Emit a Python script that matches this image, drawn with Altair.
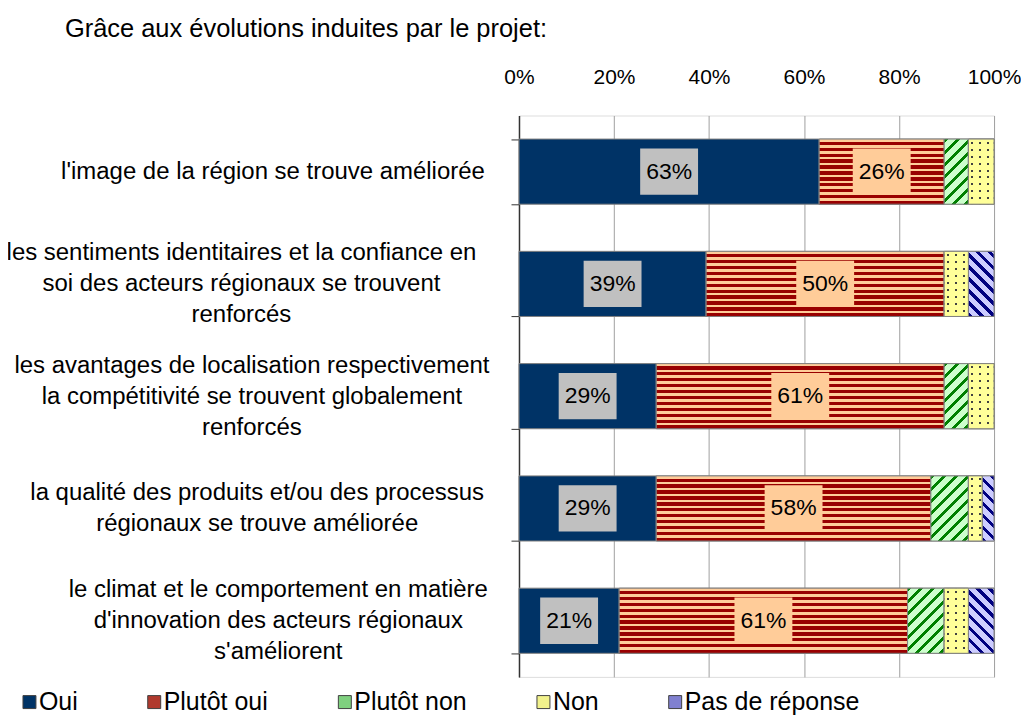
import json
import altair as alt
import pandas as pd

# ---------------- data ----------------
categories = [
    "l'image de la région se trouve améliorée",
    "les sentiments identitaires et la confiance en|soi des acteurs régionaux se trouvent|renforcés",
    "les avantages de localisation respectivement|la compétitivité se trouvent globalement|renforcés",
    "la qualité des produits et/ou des processus|régionaux se trouve améliorée",
    "le climat et le comportement en matière|d'innovation des acteurs régionaux|s'améliorent",
]
series = ["Oui", "Plutôt oui", "Plutôt non", "Non", "Pas de réponse"]
oui = [63.2, 39.4, 28.9, 28.9, 21.1]
plutot_oui = [26.3, 50.1, 60.6, 57.8, 60.7]
plutot_non = [5.1, 0.0, 5.1, 7.9, 7.7]
non = [5.4, 5.1, 5.4, 2.9, 5.1]
pas_de_reponse = [0.0, 5.4, 0.0, 2.5, 5.4]
title_text = "Grâce aux évolutions induites par le projet:"

legend_colors = ["#003366", "#B03A2E", "#7FD07F", "#F2F28C", "#8080D0"]

all_vals = [oui, plutot_oui, plutot_non, non, pas_de_reponse]
rows = []
for i, cat in enumerate(categories):
    for j, s in enumerate(series):
        rows.append({"cat": cat, "row": i, "series": s, "order": j, "value": all_vals[j][i]})
df = pd.DataFrame(rows)

# ---------------- geometry / style ----------------
W, H = 476, 562.5
P_IN, P_OUT = 0.42, 0.21
STEP = H / (len(categories) - P_IN + 2 * P_OUT)
BW = STEP * (1 - P_IN)
FONT = "Liberation Sans"
STROKE = "#808080"
LINE_H = 31
CHAR_W = 10.55       # approximate width of one character of the category labels
LABEL_RIGHT = 36     # gap between the label blocks' right edge and the axis


def stripe_stops(n, frac, fg, bg):
    stops = []
    k = 0
    while k < n:
        a = k / n
        b = min((k + frac) / n, 1.0)
        c = min((k + 1) / n, 1.0)
        stops += [(a, fg), (b, fg), (b, bg), (c, bg)]
        k += 1
    return [{"offset": round(o, 5), "color": col} for o, col in stops]


def diag_grad(w, h, direction, fg, bg, px=12.0, frac=0.35):
    n = (w * w + h * h) / (w * px)
    stops = stripe_stops(n, frac, fg, bg)
    if direction == "/":
        return {"gradient": "linear", "x1": 0, "y1": 0, "x2": 1, "y2": h / w, "stops": stops}
    return {"gradient": "linear", "x1": 0, "y1": 1, "x2": 1, "y2": 1 - h / w, "stops": stops}


def dot_columns(w, fg, bg, sp=8.0, d=2.0):
    stops = [{"offset": 0, "color": bg}]
    cx = sp / 2
    while cx + d / 2 < w:
        a, b = (cx - d / 2) / w, (cx + d / 2) / w
        stops += [{"offset": round(a, 5), "color": bg}, {"offset": round(a, 5), "color": fg},
                  {"offset": round(b, 5), "color": fg}, {"offset": round(b, 5), "color": bg}]
        cx += sp
    stops.append({"offset": 1, "color": bg})
    return {"gradient": "linear", "x1": 0, "y1": 0, "x2": 1, "y2": 0, "stops": stops}


def dot_rows_mask(h, bg, clear, sp=7.0, d=2.0):
    stops = [{"offset": 0, "color": bg}]
    cy = sp / 2
    while cy + d / 2 < h:
        a, b = (cy - d / 2) / h, (cy + d / 2) / h
        stops += [{"offset": round(a, 5), "color": bg}, {"offset": round(a, 5), "color": clear},
                  {"offset": round(b, 5), "color": clear}, {"offset": round(b, 5), "color": bg}]
        cy += sp
    stops.append({"offset": 1, "color": bg})
    return {"gradient": "linear", "x1": 0, "y1": 0, "x2": 0, "y2": 1, "stops": stops}


def per_label(fn):
    conds = [{"test": "datum.value == " + json.dumps(c, ensure_ascii=False), "value": fn(c)}
             for c in categories[:-1]]
    return {"condition": conds, "value": fn(categories[-1])}


def label_pad(c):
    first = c.split("|")[0]
    return round(LABEL_RIGHT - 8 + CHAR_W * len(first) / 2, 1)


def label_off(c):
    return -(len(c.split("|")) - 1) * LINE_H / 2


x_axis = alt.Axis(orient="top", values=[0, 20, 40, 60, 80, 100], labelExpr="datum.value + '%'",
                  grid=True, gridColor="#a0a0a0", gridWidth=1, domain=False, ticks=False,
                  labelFlush=False, labelOverlap=False,
                  labelFontSize=21, labelFont=FONT, labelColor="black", labelPadding=28, title=None)
y_axis = alt.Axis(labelExpr="split(datum.label, '|')", labelAlign="center", labelBaseline="middle",
                  labelPadding=per_label(label_pad), labelOffset=per_label(label_off),
                  labelLimit=700, labelFontSize=24, labelFont=FONT, labelColor="black",
                  labelLineHeight=LINE_H, tickBand="extent", tickSize=8, tickColor="#333333", ticks=True,
                  domain=True, domainColor="#333333", domainWidth=1.5, grid=False, title=None)
x_scale = alt.Scale(domain=[0, 100], nice=False)
y_scale = alt.Scale(paddingInner=P_IN, paddingOuter=P_OUT)


def X(field):
    return alt.X(field, type="quantitative", scale=x_scale, axis=x_axis)


Y = alt.Y("cat:N", sort=categories, scale=y_scale, axis=y_axis)

layers = []
# base bars (solid colours, legend)
layers.append(
    alt.Chart().mark_bar(stroke=STROKE, strokeWidth=1).encode(
        x=X("x0"), x2="x1:Q", y=Y,
        color=alt.Color("series:N", scale=alt.Scale(domain=series, range=legend_colors),
                        legend=alt.Legend(orient="none", legendX=-503, legendY=575, direction="horizontal",
                                          title=None, symbolType="square", symbolSize=169,
                                          symbolStrokeColor="#404040", symbolStrokeWidth=1,
                                          labelFontSize=25, labelFont=FONT, labelColor="black",
                                          labelLimit=400, columnPadding=64, labelOffset={"expr": "-3"},
                                          padding=0)),
    )
)

# Plutôt oui horizontal stripes
po_grad = {"gradient": "linear", "x1": 0, "y1": 0, "x2": 0, "y2": 1,
           "stops": stripe_stops(11, 0.45, "#FFCC99", "#990000")}
layers.append(
    alt.Chart().mark_bar(fill=po_grad, stroke=STROKE, strokeWidth=1)
    .encode(x=X("x0"), x2="x1:Q", y=Y)
    .transform_filter("datum.series == 'Plutôt oui'")
)

# diagonal hatching (Plutôt non, Pas de réponse) and dotted (Non)
for i in range(len(categories)):
    if plutot_non[i] > 0:
        g = diag_grad(plutot_non[i] / 100 * W, BW, "/", "#008000", "#CCFFCC")
        layers.append(
            alt.Chart().mark_bar(fill=g, stroke=STROKE, strokeWidth=1)
            .encode(x=X("x0"), x2="x1:Q", y=Y)
            .transform_filter(f"datum.series == 'Plutôt non' && datum.row == {i}")
        )
    if pas_de_reponse[i] > 0:
        g = diag_grad(pas_de_reponse[i] / 100 * W, BW, "\\", "#000080", "#CCCCFF")
        layers.append(
            alt.Chart().mark_bar(fill=g, stroke=STROKE, strokeWidth=1)
            .encode(x=X("x0"), x2="x1:Q", y=Y)
            .transform_filter(f"datum.series == 'Pas de réponse' && datum.row == {i}")
        )
    if non[i] > 0:
        g1 = dot_columns(non[i] / 100 * W, "#404040", "#FFFF99")
        g2 = dot_rows_mask(BW, "#FFFF99", "rgba(255,255,153,0)")
        for g in (g1, g2):
            layers.append(
                alt.Chart().mark_bar(fill=g, stroke=STROKE, strokeWidth=1)
                .encode(x=X("x0"), x2="x1:Q", y=Y)
                .transform_filter(f"datum.series == 'Non' && datum.row == {i}")
            )

# value labels with boxes
box_path = "M-1,-0.8L1,-0.8L1,0.8L-1,0.8Z"
for s, col in (("Oui", "#C0C0C0"), ("Plutôt oui", "#FFCC99")):
    layers.append(
        alt.Chart().mark_point(shape=box_path, size=58 * 58, filled=True, fill=col, opacity=1, strokeWidth=0)
        .encode(x=X("mid"), y=Y)
        .transform_filter(f"datum.series == '{s}'")
    )
layers.append(
    alt.Chart().mark_text(fontSize=23, font=FONT, color="black", baseline="middle")
    .encode(x=X("mid"), y=Y, text="label:N")
    .transform_filter("datum.series == 'Oui' || datum.series == 'Plutôt oui'")
)

chart = (
    alt.layer(*layers, data=df)
    .transform_filter("datum.value > 0")
    .transform_stack(stack="value", groupby=["cat"], as_=["x0", "x1"], sort=[alt.SortField("order")])
    .transform_calculate(mid="(datum.x0 + datum.x1) / 2", label="format(datum.value, '.0f') + '%'")
    .properties(
        width=W, height=H,
        title=alt.TitleParams(title_text, anchor="start", frame="group", dx=-455, fontSize=25.5, font=FONT,
                              fontWeight="normal", color="black", offset=24),
        autosize=alt.AutoSizeParams(type="none"),
        padding={"left": 512, "top": 107, "right": 27, "bottom": 40},
    )
    .configure_view(stroke="#a0a0a0", strokeWidth=1)
    .configure(background="white")
)

chart.save("out.html", embed_options={"renderer": "svg", "actions": False})
